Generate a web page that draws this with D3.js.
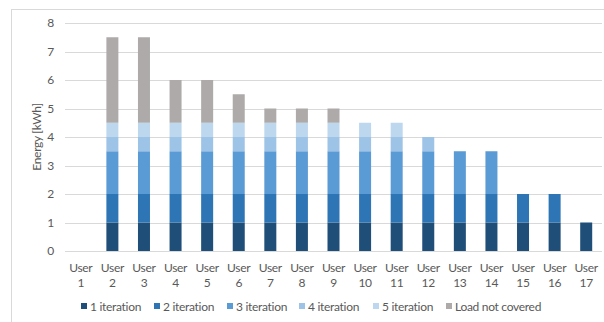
<!DOCTYPE html>
<html>
<head>
<meta charset="utf-8">
<script src="https://cdn.jsdelivr.net/npm/d3@7"></script>
<style>
  html, body { margin: 0; padding: 0; background: #fff; }
  svg { display: block; }
  text { font-family: Lato, "Open Sans", sans-serif; fill: #595959; letter-spacing: -0.3px; }
</style>
</head>
<body>
<svg id="chart" width="604" height="322"></svg>
<script>
// Energy delivered per user, split by iteration (kWh)
const users = ["User 1","User 2","User 3","User 4","User 5","User 6","User 7","User 8","User 9",
               "User 10","User 11","User 12","User 13","User 14","User 15","User 16","User 17"];
const iter1 = [0, 1, 1, 1, 1, 1, 1, 1, 1, 1, 1, 1, 1, 1, 1, 1, 1];
const iter2 = [0, 1, 1, 1, 1, 1, 1, 1, 1, 1, 1, 1, 1, 1, 1, 1, 0];
const iter3 = [0, 1.5, 1.5, 1.5, 1.5, 1.5, 1.5, 1.5, 1.5, 1.5, 1.5, 1.5, 1.5, 1.5, 0, 0, 0];
const iter4 = [0, 0.5, 0.5, 0.5, 0.5, 0.5, 0.5, 0.5, 0.5, 0.5, 0.5, 0.5, 0, 0, 0, 0, 0];
const iter5 = [0, 0.5, 0.5, 0.5, 0.5, 0.5, 0.5, 0.5, 0.5, 0.5, 0.5, 0, 0, 0, 0, 0, 0];
const notCovered = [0, 3, 3, 1.5, 1.5, 1, 0.5, 0.5, 0.5, 0, 0, 0, 0, 0, 0, 0, 0];
const seriesNames = ["1 iteration","2 iteration","3 iteration","4 iteration","5 iteration","Load not covered"];
const yTicks = [0, 1, 2, 3, 4, 5, 6, 7, 8];

const colors = ["#1F4E79", "#2E75B6", "#5B9BD5", "#9DC3E6", "#BDD7EE", "#AEAAAA"];
const seriesData = [iter1, iter2, iter3, iter4, iter5, notCovered];

const rows = users.map((u, i) => {
  const r = { user: u };
  seriesNames.forEach((s, k) => r[s] = seriesData[k][i]);
  return r;
});
const stacked = d3.stack().keys(seriesNames)(rows);

const svg = d3.select("#chart");
const fontSize = "12px";

// outer chart frame
svg.append("rect")
  .attr("x", 11.5).attr("y", 9.5)
  .attr("width", 620).attr("height", 340)
  .attr("fill", "none").attr("stroke", "#D9D9D9");

const plot = { left: 65, right: 602, top: 23, bottom: 251 };

const x = d3.scaleBand().domain(users).range([plot.left, plot.right]).paddingInner(0.62).paddingOuter(0.31);
const y = d3.scaleLinear().domain([0, 8]).range([plot.bottom, plot.top]);

// horizontal gridlines
svg.append("g").selectAll("line").data(yTicks).join("line")
  .attr("x1", plot.left).attr("x2", plot.right)
  .attr("y1", d => Math.round(y(d)) + 0.5).attr("y2", d => Math.round(y(d)) + 0.5)
  .attr("stroke", "#D9D9D9").attr("stroke-width", 1);

// y axis labels
const yAxis = svg.append("g").attr("transform", `translate(${plot.left},0)`)
  .call(d3.axisLeft(y).tickValues(yTicks).tickSize(0).tickPadding(11).tickFormat(d3.format("d")));
yAxis.select(".domain").remove();
yAxis.selectAll("text").style("font-size", fontSize).attr("fill", "#595959")
  .style("font-family", "Lato, 'Open Sans', sans-serif");

// stacked bars
svg.append("g").selectAll("g").data(stacked).join("g")
  .attr("fill", (d, i) => colors[i])
  .selectAll("rect").data(d => d).join("rect")
  .attr("x", d => x(d.data.user))
  .attr("width", x.bandwidth())
  .attr("y", d => y(d[1]))
  .attr("height", d => y(d[0]) - y(d[1]));

// x axis labels, two lines each
const xLab = svg.append("g").selectAll("text").data(users).join("text")
  .attr("x", d => x(d) + x.bandwidth() / 2)
  .attr("y", 272)
  .attr("text-anchor", "middle")
  .style("font-size", fontSize);
xLab.append("tspan").attr("x", d => x(d) + x.bandwidth() / 2).text(d => d.split(" ")[0]);
xLab.append("tspan").attr("x", d => x(d) + x.bandwidth() / 2).attr("dy", 15).text(d => d.split(" ")[1]);

// y axis title
svg.append("text")
  .attr("transform", `translate(41,${(plot.top + plot.bottom) / 2}) rotate(-90)`)
  .attr("text-anchor", "middle")
  .style("font-size", fontSize)
  .text("Energy [kWh]");

// legend
const legendX = [81, 154, 227, 299, 373, 446];
const legend = svg.append("g").selectAll("g").data(seriesNames).join("g")
  .attr("transform", (d, i) => `translate(${legendX[i]},307)`);
legend.append("rect").attr("x", 0).attr("y", -4).attr("width", 6).attr("height", 6)
  .attr("fill", (d, i) => colors[i]);
legend.append("text").attr("x", 9).attr("y", 3.5).style("font-size", fontSize).text(d => d);
</script>
</body>
</html>
